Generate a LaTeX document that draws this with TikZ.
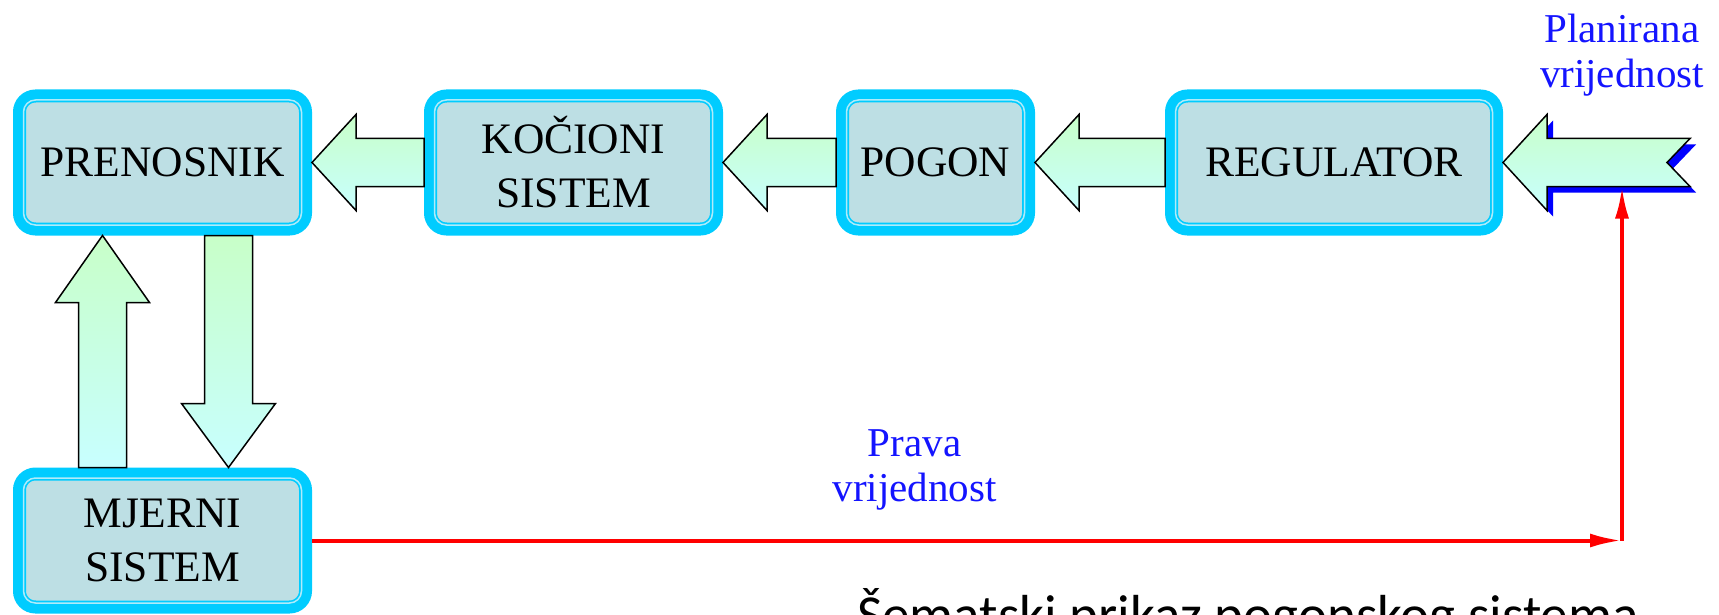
\documentclass[tikz,border=0pt]{standalone}
\usepackage{fontspec}
\setmainfont{Liberation Serif}
\newfontfamily\captionfont{Carlito}
\usepackage{tikz}
\usetikzlibrary{positioning, calc, arrows.meta, shadows}
\definecolor{boxcyan}{RGB}{0, 204, 255}
\definecolor{boxfill}{RGB}{189, 223, 228}
\definecolor{boxpale}{RGB}{175, 235, 250}
\definecolor{flowgreen}{RGB}{200, 255, 200}
\definecolor{flowcyan}{RGB}{200, 255, 255}
\definecolor{labelblue}{RGB}{20, 20, 255}

\begin{document}
\begin{tikzpicture}[x=1pt, y=-1pt, >=Latex,
    block/.style={draw=boxcyan, fill=boxfill, line width=13pt, rounded corners=16pt, minimum width=286pt, minimum height=133pt, align=center, inner sep=0pt, font=\fontsize{43.5}{54}\selectfont},
    blockrim/.style={draw=boxpale, line width=1.5pt, rounded corners=12pt},
    flow/.style={draw=black, line width=1.5pt, top color=flowgreen, bottom color=flowcyan},
    feedback/.style={-{Latex[length=32pt, width=14pt]}, red, line width=4pt},
    lbl/.style={text=labelblue, align=center, inner sep=0pt, font=\fontsize{41}{45}\selectfont}]
    \useasboundingbox (0,0) rectangle (1719,615);

    \node [block] (prenosnik) at (162.5,162.5) {PRENOSNIK};
    \node [block, right=112pt of prenosnik] (kocioni) {KOČIONI\\SISTEM};
    \node [block, minimum width=186pt, right=113pt of kocioni] (pogon) {POGON};
    \node [block, minimum width=325pt, right=130pt of pogon] (regulator) {REGULATOR};
    \node [block, below=232pt of prenosnik] (mjerni) {MJERNI\\SISTEM};

    \foreach \n in {prenosnik, kocioni, pogon, regulator, mjerni}
        \draw [blockrim] ([shift={(10.5pt,-10.5pt)}]\n.north west) rectangle ([shift={(-10.5pt,10.5pt)}]\n.south east);

    % block arrows along the top row
    \foreach \a/\b in {kocioni/prenosnik, pogon/kocioni, regulator/pogon}
        \draw [flow] (\b.east) -- ++(44,-48) -- ++(0,24) -- ($(\a.west)+(0,-24)$) -- ($(\a.west)+(0,24)$) -- ($(\b.east)+(44,24)$) -- ++(0,24) -- cycle;

    \draw [flow] ($(prenosnik.south)+(-60,0)$) -- ++(47,67) -- ++(-23,0) -- ($(mjerni.north)+(-36,0)$) -- ($(mjerni.north)+(-84,0)$) -- ($(prenosnik.south)+(-84,67)$) -- ++(-23,0) -- cycle;
    \draw [flow] ($(prenosnik.south)+(42,0)$) -- ($(prenosnik.south)+(90,0)$) -- ($(mjerni.north)+(90,-64)$) -- ++(23,0) -- ($(mjerni.north)+(66,0)$) -- ($(mjerni.north)+(19,-64)$) -- ++(23,0) -- cycle;

    % set point comes in from the right
    \draw [flow, drop shadow={shadow xshift=6pt, shadow yshift=-6pt, fill=blue, opacity=1}] (regulator.east) -- ++(44,-48) -- ++(0,24) -- ++(143,0) -- ++(-23,24) -- ++(23,24) -- ++(-143,0) -- ++(0,24) -- cycle;

    \coordinate (intap) at ($(regulator.east)+(119,24)$);
    \coordinate (bend) at (intap |- mjerni.east);
    \node [lbl, above=90pt of intap] (planirana) {Planirana\\vrijednost};

    \draw [feedback] (mjerni.east) -- (bend) node [lbl, pos=0.46, above=28pt] (prava) {Prava\\vrijednost};
    \draw [feedback] (bend) -- (intap);

    \node [font=\captionfont\fontsize{55}{60}\selectfont, anchor=base west, inner sep=0pt] (caption) at (857,633) {Šematski prikaz pogonskog sistema};
\end{tikzpicture}
\end{document}
